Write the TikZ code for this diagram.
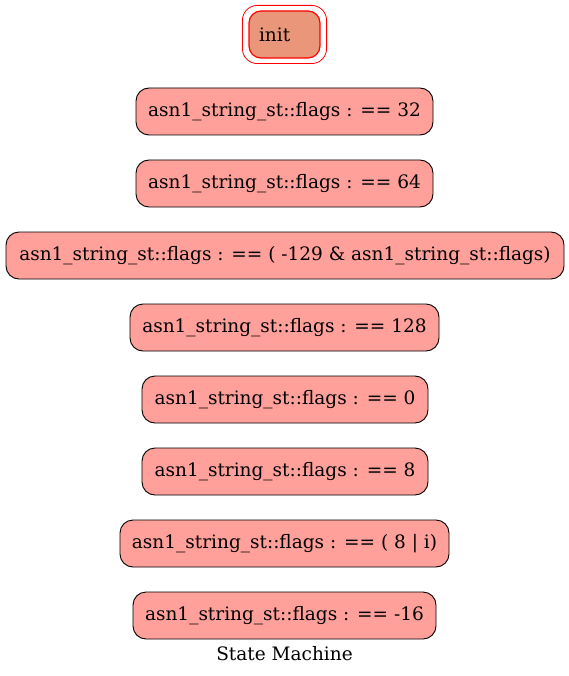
\documentclass[tikz,border=0pt]{standalone}
\usepackage{fontspec}
\setmainfont{DejaVu Serif}
\usetikzlibrary{calc}
\definecolor{statefill}{RGB}{255,160,154}
\definecolor{initfill}{RGB}{233,150,122}
\definecolor{initline}{RGB}{255,0,0}
\tikzset{
  state/.style={draw=black, line width=0.9pt, fill=statefill, rounded corners=13pt,
    minimum height=47pt, inner xsep=10pt, inner ysep=0pt,
    font=\fontsize{18.5}{22}\selectfont},
  initstate/.style={draw=initline, line width=1.2pt, fill=initfill, rounded corners=12pt,
    minimum height=47pt, text width=51pt, align=left, inner xsep=10pt, inner ysep=0pt,
    font=\fontsize{18.5}{22}\selectfont},
  initring/.style={draw=initline, line width=0.8pt, rounded corners=15pt},
  caption/.style={font=\fontsize{18.5}{22}\selectfont, inner sep=0pt}
}
\begin{document}
\begin{tikzpicture}[x=1pt,y=-1pt]
  \useasboundingbox (0,0) rectangle (569,676);
  % initial state with its double border
  \node[initstate] (init) at (284.5,34.5) {init};
  \draw[initring] ($(init.north west)+(-6,-5)$) rectangle ($(init.south east)+(6,5)$);
  % states, top to bottom
  \node[state, minimum width=297pt] (s32)  at (284.5,111.5) {asn1\_string\_st::flags : == 32};
  \node[state, minimum width=297pt] (s64)  at (284.5,183.5) {asn1\_string\_st::flags : == 64};
  \node[state, minimum width=558pt] (smask) at (285,255.5) {asn1\_string\_st::flags : == ( -129 \& asn1\_string\_st::flags)};
  \node[state, minimum width=309pt] (s128) at (284.5,327.5) {asn1\_string\_st::flags : == 128};
  \node[state, minimum width=286pt] (s0)   at (285,399.5) {asn1\_string\_st::flags : == 0};
  \node[state, minimum width=286pt] (s8)   at (285,471.5) {asn1\_string\_st::flags : == 8};
  \node[state, minimum width=329pt] (sor)  at (284.5,543.5) {asn1\_string\_st::flags : == ( 8 | i)};
  \node[state, minimum width=303pt] (sneg) at (284.5,615.5) {asn1\_string\_st::flags : == -16};
  % graph label
  \node[caption] (title) at (284.5,654) {State Machine};
\end{tikzpicture}
\end{document}
